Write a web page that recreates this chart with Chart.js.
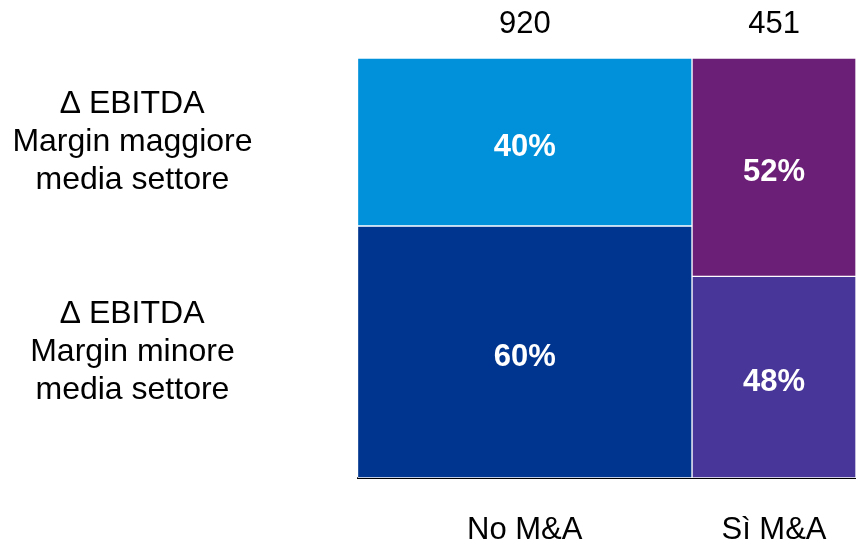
<!DOCTYPE html>
<html lang="it">
<head>
    <meta charset="utf-8">
    <title>EBITDA margin e M&amp;A</title>
    <script src="https://cdn.jsdelivr.net/npm/chart.js"></script>
    <style>
        html, body { margin: 0; padding: 0; background: #fff; }
        .chart-container { width: 856px; height: 546px; position: relative; }
        canvas { display: block; }
    </style>
</head>
<body>
    <div class="chart-container">
        <canvas id="myChart" width="856" height="546"></canvas>
    </div>

    <script>
        // data
        const categories = ["No M&A", "Sì M&A"];
        const companies = [920, 451];          // column widths (number of companies)
        const shareAbove = [40, 52];           // Δ EBITDA margin maggiore media settore (%)
        const shareBelow = [60, 48];           // Δ EBITDA margin minore media settore (%)
        const rowLabels = [
            ["∆ EBITDA", "Margin maggiore", "media settore"],
            ["∆ EBITDA", "Margin minore", "media settore"]
        ];

        const aboveColors = ["#0091da", "#6c1f76"];
        const belowColors = ["#00358f", "#483698"];
        const FONT = "'Liberation Sans', Arial, sans-serif";

        const total = companies.reduce((a, b) => a + b, 0);
        const starts = companies.map((c, i) => companies.slice(0, i).reduce((a, b) => a + b, 0));
        const centers = companies.map((c, i) => starts[i] + c / 2);

        const datasets = [];
        categories.forEach((cat, i) => {
            const common = {
                stack: "mekko",
                borderColor: "#fff",
                borderWidth: 1,
                borderSkipped: false,
                colStart: starts[i],
                colEnd: starts[i] + companies[i]
            };
            datasets.push(Object.assign({
                label: cat + " - minore",
                data: [{ x: centers[i], y: shareBelow[i] }],
                backgroundColor: belowColors[i]
            }, common));
            datasets.push(Object.assign({
                label: cat + " - maggiore",
                data: [{ x: centers[i], y: shareAbove[i] }],
                backgroundColor: aboveColors[i]
            }, common));
        });

        // each column is as wide as its share of companies on the x scale
        const columnWidths = {
            id: "columnWidths",
            beforeDatasetsUpdate(chart) {
                const x = chart.scales.x;
                chart.data.datasets.forEach(ds => {
                    ds.barThickness = x.getPixelForValue(ds.colEnd) - x.getPixelForValue(ds.colStart);
                });
            }
        };

        // white percentages inside the segments
        const segmentLabels = {
            id: "segmentLabels",
            afterDatasetsDraw(chart) {
                const ctx = chart.ctx;
                ctx.save();
                ctx.font = "bold 31px " + FONT;
                ctx.fillStyle = "#fff";
                ctx.textAlign = "center";
                ctx.textBaseline = "middle";
                chart.data.datasets.forEach((ds, i) => {
                    const bar = chart.getDatasetMeta(i).data[0];
                    const p = bar.getProps(["x", "y", "base"], true);
                    ctx.fillText(ds.data[0].y + "%", p.x, (p.y + p.base) / 2 + 5);
                });
                ctx.restore();
            }
        };

        // the column labels never reach the plot edges, so no side padding
        const noSidePadding = s => {
            s.paddingLeft = 0;
            s.paddingRight = 0;
        };

        Chart.defaults.font.family = FONT;
        Chart.defaults.font.size = 31;
        Chart.defaults.color = "#000";

        new Chart(document.getElementById("myChart"), {
            type: "bar",
            data: { datasets: datasets },
            options: {
                responsive: false,
                animation: false,
                layout: { padding: 0 },
                plugins: {
                    legend: { display: false },
                    tooltip: { enabled: false }
                },
                scales: {
                    x: {
                        type: "linear",
                        stacked: true,
                        min: 0,
                        max: total,
                        offset: false,
                        grid: { display: false, drawTicks: false, offset: false },
                        border: { display: true, color: "#000", width: 2 },
                        afterBuildTicks: s => { s.ticks = centers.map(v => ({ value: v })); },
                        afterFit: s => { s.height = 68; noSidePadding(s); },
                        ticks: {
                            autoSkip: false,
                            maxRotation: 0,
                            padding: 34,
                            callback: (v, i) => categories[i]
                        }
                    },
                    x2: {
                        type: "linear",
                        position: "top",
                        min: 0,
                        max: total,
                        offset: false,
                        grid: { display: false, drawTicks: false },
                        border: { display: false },
                        afterBuildTicks: s => { s.ticks = centers.map(v => ({ value: v })); },
                        afterFit: s => { s.height = 58; noSidePadding(s); },
                        ticks: {
                            autoSkip: false,
                            maxRotation: 0,
                            padding: 15,
                            callback: (v, i) => companies[i]
                        }
                    },
                    y: {
                        stacked: true,
                        min: 0,
                        max: 100,
                        grid: { display: false, drawTicks: false },
                        border: { display: false },
                        afterBuildTicks: s => {
                            s.ticks = [
                                { value: shareBelow[0] / 2 },
                                { value: shareBelow[0] + shareAbove[0] / 2 }
                            ];
                        },
                        afterFit: s => {
                            s.width = 357.5;
                            // labels sit mid-segment, no need to reserve room above/below
                            s.paddingTop = 0;
                            s.paddingBottom = 0;
                        },
                        ticks: {
                            crossAlign: "center",
                            padding: 105,
                            font: { size: 32, lineHeight: 1.19 },
                            callback: (v, i) => rowLabels[1 - i]
                        }
                    }
                }
            },
            plugins: [columnWidths, segmentLabels]
        });
    </script>
</body>
</html>
